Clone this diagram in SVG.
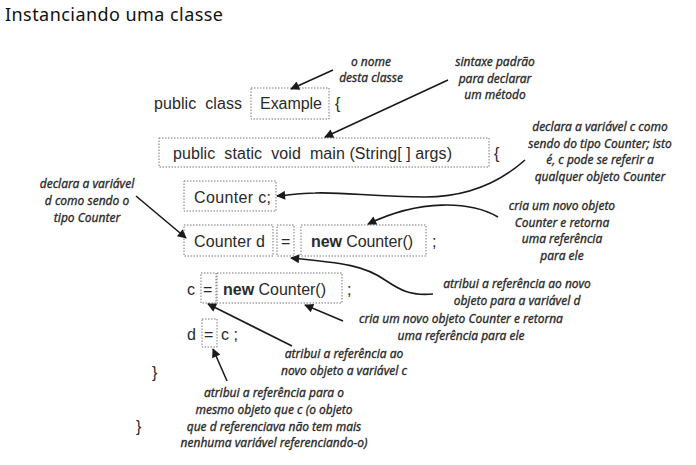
<svg xmlns="http://www.w3.org/2000/svg" width="696" height="465" viewBox="0 0 696 465">
<defs>
<marker id="ah" viewBox="0 0 10 10" refX="9" refY="5" markerWidth="12" markerHeight="9" orient="auto-start-reverse" markerUnits="userSpaceOnUse">
<path d="M0,0 L10,5 L0,10 z" fill="#1a1a1a"/>
</marker>
<style>
.code{font-family:"Liberation Sans",Arial,sans-serif;font-size:16px;fill:#2a2a2a;white-space:pre}
.note{font-family:"Noto Sans","DejaVu Sans",sans-serif;font-style:italic;font-size:12px;fill:#2a2a2a;stroke:#2a2a2a;stroke-width:0.3;text-anchor:middle}
.box{fill:none;stroke:#777;stroke-width:1;stroke-dasharray:1.5 1.5}
.ln{fill:none;stroke:#1a1a1a;stroke-width:1.6;marker-end:url(#ah)}
.title{font-family:"Noto Sans","DejaVu Sans",sans-serif;font-size:18px;fill:#111}
</style>
</defs>
<rect width="696" height="465" fill="#fff"/>
<text class="title" x="5" y="21" textLength="218" lengthAdjust="spacing">Instanciando uma classe</text>

<g id="class-decl">
<text class="code" x="154" y="109" textLength="88" xml:space="preserve">public  class</text>
<rect class="box" x="251" y="88" width="78" height="31"/>
<text class="code" x="260" y="109" textLength="62">Example</text>
<text class="code" x="335" y="109">{</text>
</g>
<g id="main-decl">
<rect class="box" x="159" y="138" width="330" height="29"/>
<text class="code" x="173" y="159" textLength="279" xml:space="preserve">public  static  void  main (String[ ] args)</text>
<text class="code" x="494" y="159">{</text>
</g>
<g id="counter-c">
<rect class="box" x="184" y="181" width="92" height="30"/>
<text class="code" x="194" y="203" textLength="77">Counter c;</text>
</g>
<g id="counter-d-row">
<rect class="box" x="184" y="225" width="89" height="31"/>
<text class="code" x="194" y="247" textLength="71">Counter d</text>
<rect class="box" x="277" y="225" width="17" height="31"/>
<text class="code" x="281" y="247">=</text>
<rect class="box" x="301" y="225" width="125" height="31"/>
<text class="code" x="311" y="247" textLength="102"><tspan font-weight="bold">new</tspan> Counter()</text>
<text class="code" x="432" y="247">;</text>
</g>
<g id="c-row">
<text class="code" x="187" y="295">c</text>
<rect class="box" x="201" y="273" width="15" height="30"/>
<text class="code" x="203" y="295">=</text>
<rect class="box" x="217" y="273" width="125" height="30"/>
<text class="code" x="223" y="295" textLength="103"><tspan font-weight="bold">new</tspan> Counter()</text>
<text class="code" x="347" y="295">;</text>
</g>
<g id="d-row">
<text class="code" x="187" y="340">d</text>
<rect class="box" x="202" y="319" width="15" height="28"/>
<text class="code" x="204" y="340">=</text>
<text class="code" x="221" y="340" xml:space="preserve">c ;</text>
</g>
<g id="close-braces">
<text class="code" x="152" y="378">}</text>
<text class="code" x="136" y="432">}</text>
</g>

<g id="notes">
<text class="note"><tspan x="371" y="66">o nome</tspan><tspan x="371" y="82">desta classe</tspan></text>
<text class="note"><tspan x="495" y="66">sintaxe padrão</tspan><tspan x="495" y="83">para declarar</tspan><tspan x="495" y="99">um método</tspan></text>
<text class="note"><tspan x="600" y="131">declara a variável c como</tspan><tspan x="600" y="148">sendo do tipo Counter; isto</tspan><tspan x="600" y="164">é, c pode se referir a</tspan><tspan x="600" y="181">qualquer objeto Counter</tspan></text>
<text class="note"><tspan x="87" y="188">declara a variável</tspan><tspan x="87" y="205">d como sendo o</tspan><tspan x="87" y="222">tipo Counter</tspan></text>
<text class="note"><tspan x="562" y="210">cria um novo objeto</tspan><tspan x="562" y="227">Counter e retorna</tspan><tspan x="562" y="243">uma referência</tspan><tspan x="562" y="260">para ele</tspan></text>
<text class="note"><tspan x="517" y="288">atribui a referência ao novo</tspan><tspan x="517" y="305">objeto para a variável d</tspan></text>
<text class="note"><tspan x="461" y="323">cria um novo objeto Counter e retorna</tspan><tspan x="461" y="340">uma referência para ele</tspan></text>
<text class="note"><tspan x="344" y="358">atribui a referência ao</tspan><tspan x="344" y="375">novo objeto a variável c</tspan></text>
<text class="note"><tspan x="274" y="397">atribui a referência para o</tspan><tspan x="274" y="414">mesmo objeto que c (o objeto</tspan><tspan x="274" y="431">que d referenciava não tem mais</tspan><tspan x="274" y="447">nenhuma variável referenciando-o)</tspan></text>
</g>

<g id="connectors">
<path class="ln" d="M333,70 L291,89"/>
<path class="ln" d="M448,80 L325,137"/>
<path class="ln" d="M525,160 C498,184 465,197 425,197 C375,197 345,192 315,193 C300,193 290,195 277,196"/>
<path class="ln" d="M136,196 L186,238"/>
<path class="ln" d="M498,217 C470,201 420,199 368,224"/>
<path class="ln" d="M433,294 C410,296 400,290 385,280 C365,266 345,263 291,258"/>
<path class="ln" d="M343,321 L305,305"/>
<path class="ln" d="M292,346 L208,304"/>
<path class="ln" d="M227,381 L213,349"/>
</g>
</svg>
